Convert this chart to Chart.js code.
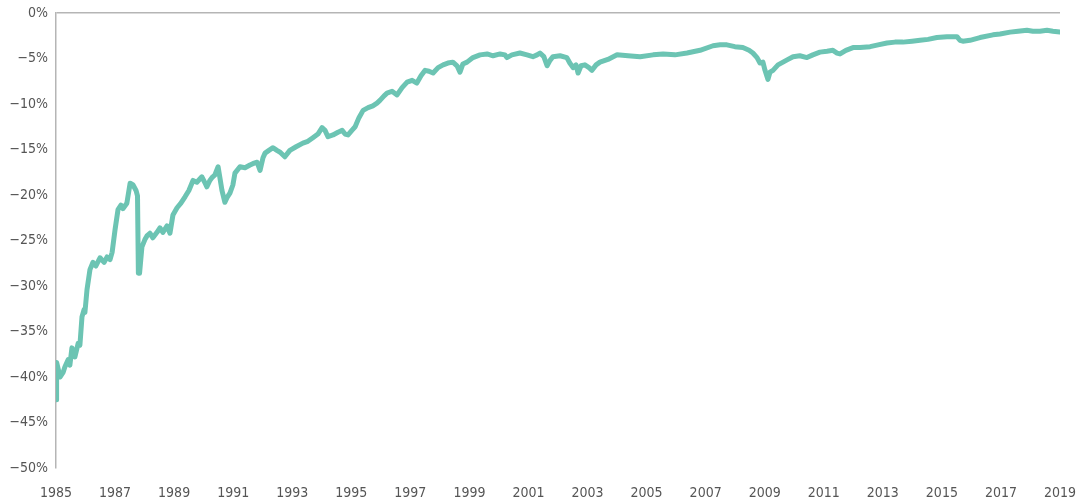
<!DOCTYPE html>
<html>
<head>
<meta charset="utf-8">
<script src="https://cdn.jsdelivr.net/npm/chart.js@4"></script>
<style>
  html, body { margin: 0; padding: 0; background: #fff; }
  #wrap { width: 1088px; height: 504px; }
</style>
</head>
<body>
<div id="wrap"><canvas id="drawdown" width="1088" height="504"></canvas></div>
<script>
// decimal years of the traced points
const years = [
  1985.00, 1985.02, 1985.14, 1985.24, 1985.30, 1985.41, 1985.47, 1985.54, 1985.64, 1985.75,
  1985.81, 1985.88, 1985.95, 1985.98, 1986.05, 1986.15, 1986.25, 1986.35, 1986.49, 1986.63,
  1986.73, 1986.83, 1986.90, 1987.00, 1987.10, 1987.20, 1987.27, 1987.40, 1987.51, 1987.61,
  1987.71, 1987.76, 1987.79, 1987.83, 1987.91, 1988.01, 1988.08, 1988.18, 1988.28, 1988.42,
  1988.52, 1988.62, 1988.76, 1988.86, 1988.96, 1989.10, 1989.23, 1989.37, 1989.50, 1989.64,
  1989.77, 1989.94, 1990.05, 1990.11, 1990.21, 1990.28, 1990.38, 1990.49, 1990.55, 1990.62,
  1990.72, 1990.79, 1990.89, 1990.99, 1991.06, 1991.23, 1991.40, 1991.57, 1991.71, 1991.81,
  1991.91, 1992.01, 1992.08, 1992.21, 1992.35, 1992.48, 1992.59, 1992.75, 1992.92, 1993.13,
  1993.36, 1993.53, 1993.70, 1993.87, 1994.01, 1994.11, 1994.21, 1994.38, 1994.55, 1994.69,
  1994.79, 1994.89, 1995.02, 1995.13, 1995.26, 1995.40, 1995.57, 1995.73, 1995.87, 1995.97,
  1996.11, 1996.21, 1996.38, 1996.55, 1996.72, 1996.89, 1997.06, 1997.22, 1997.36, 1997.50,
  1997.63, 1997.77, 1997.94, 1998.11, 1998.27, 1998.44, 1998.58, 1998.68, 1998.78, 1998.92,
  1999.12, 1999.36, 1999.60, 1999.80, 2000.04, 2000.20, 2000.27, 2000.44, 2000.71, 2000.95,
  2001.15, 2001.29, 2001.39, 2001.52, 2001.63, 2001.73, 2001.83, 2002.07, 2002.30, 2002.40,
  2002.51, 2002.61, 2002.68, 2002.78, 2002.91, 2003.05, 2003.15, 2003.29, 2003.42, 2003.69,
  2004.00, 2004.37, 2004.78, 2005.22, 2005.56, 2005.96, 2006.37, 2006.81, 2007.25, 2007.49,
  2007.72, 2007.99, 2008.26, 2008.47, 2008.60, 2008.74, 2008.84, 2008.94, 2009.01, 2009.11,
  2009.18, 2009.28, 2009.45, 2009.62, 2009.79, 2009.96, 2010.19, 2010.43, 2010.63, 2010.87,
  2011.11, 2011.31, 2011.45, 2011.55, 2011.75, 2011.99, 2012.23, 2012.57, 2012.84, 2013.14,
  2013.41, 2013.68, 2013.99, 2014.26, 2014.53, 2014.83, 2015.17, 2015.51, 2015.61, 2015.71,
  2015.95, 2016.29, 2016.73, 2016.97, 2017.31, 2017.58, 2017.88, 2018.08, 2018.32, 2018.56,
  2018.76, 2019.00
];

// drawdown in percent
const drawdown = [
  -42.5, -38.4, -40.0, -39.5, -38.9, -38.1, -38.7, -36.8, -37.8, -36.3,
  -36.5, -33.4, -32.6, -32.9, -30.4, -28.2, -27.4, -27.8, -26.9, -27.4,
  -26.8, -27.1, -26.3, -23.8, -21.6, -21.1, -21.5, -20.9, -18.7, -18.9,
  -19.5, -20.1, -28.6, -28.6, -25.7, -24.9, -24.5, -24.2, -24.7, -24.1,
  -23.6, -24.1, -23.4, -24.2, -22.2, -21.4, -20.9, -20.2, -19.5, -18.4,
  -18.6, -18.0, -18.7, -19.1, -18.4, -18.1, -17.8, -16.9, -18.1, -19.5,
  -20.8, -20.3, -19.8, -18.9, -17.6, -16.9, -17.0, -16.7, -16.5, -16.4,
  -17.3, -15.9, -15.4, -15.1, -14.8, -15.1, -15.3, -15.8, -15.1, -14.7,
  -14.3, -14.1, -13.7, -13.3, -12.6, -12.9, -13.6, -13.4, -13.1, -12.9,
  -13.3, -13.4, -12.9, -12.5, -11.5, -10.7, -10.4, -10.2, -9.9, -9.6,
  -9.1, -8.8, -8.6, -9.0, -8.2, -7.6, -7.4, -7.7, -6.9, -6.3,
  -6.4, -6.6, -6.0, -5.7, -5.5, -5.4, -5.8, -6.5, -5.6, -5.4,
  -4.9, -4.6, -4.5, -4.7, -4.5, -4.6, -4.9, -4.6, -4.4, -4.6,
  -4.8, -4.6, -4.4, -4.8, -5.8, -5.2, -4.8, -4.7, -4.9, -5.5,
  -6.0, -5.7, -6.6, -5.8, -5.7, -6.0, -6.3, -5.7, -5.4, -5.1,
  -4.6, -4.7, -4.8, -4.6, -4.5, -4.6, -4.4, -4.1, -3.6, -3.5,
  -3.5, -3.7, -3.8, -4.1, -4.4, -4.9, -5.5, -5.4, -6.3, -7.3,
  -6.5, -6.3, -5.7, -5.4, -5.1, -4.8, -4.7, -4.9, -4.6, -4.3,
  -4.2, -4.1, -4.4, -4.5, -4.1, -3.8, -3.8, -3.7, -3.5, -3.3,
  -3.2, -3.2, -3.1, -3.0, -2.9, -2.7, -2.6, -2.6, -3.0, -3.1,
  -3.0, -2.7, -2.4, -2.3, -2.1, -2.0, -1.9, -2.0, -2.0, -1.9,
  -2.0, -2.1
];

const yearTicks = [1985, 1987, 1989, 1991, 1993, 1995, 1997, 1999, 2001, 2003, 2005,
  2007, 2009, 2011, 2013, 2015, 2017, 2019];
const pctTicks = [0, -5, -10, -15, -20, -25, -30, -35, -40, -45, -50];

const points = years.map((yr, i) => ({ x: yr, y: drawdown[i] }));
const labelFont = { family: "'Liberation Sans Narrow', 'DejaVu Sans Condensed', sans-serif", size: 14 };

new Chart(document.getElementById('drawdown'), {
  type: 'line',
  data: {
    datasets: [{
      data: points,
      borderColor: '#6cc4b3',
      borderWidth: 5,
      pointRadius: 0,
      tension: 0,
      borderJoinStyle: 'round',
      borderCapStyle: 'round'
    }]
  },
  options: {
    responsive: false,
    animation: false,
    layout: { padding: { left: 0, right: 28, top: 13, bottom: 0 } },
    plugins: { legend: { display: false }, tooltip: { enabled: false } },
    scales: {
      x: {
        type: 'linear',
        min: 1985,
        max: 2019,
        afterBuildTicks: (scale) => { scale.ticks = yearTicks.map(v => ({ value: v })); },
        afterFit: (scale) => {
          // tick padding would otherwise widen the right margin
          scale.height = 36;
          scale.paddingLeft = 0;
          scale.paddingRight = 28;
        },
        ticks: {
          color: '#555',
          font: labelFont,
          padding: 17,
          maxRotation: 0,
          autoSkip: false,
          callback: (v) => String(v)
        },
        grid: { display: false, drawTicks: false },
        border: { display: false }
      },
      y: {
        min: -50,
        max: 0,
        afterBuildTicks: (scale) => { scale.ticks = pctTicks.map(v => ({ value: v })); },
        afterFit: (scale) => {
          scale.width = 56;
          scale.paddingTop = 0;
          scale.paddingBottom = 0;
        },
        ticks: {
          color: '#555',
          font: labelFont,
          padding: 8,
          callback: (v) => (v === 0 ? '0%' : '\u2212' + Math.abs(v) + '%')
        },
        grid: {
          drawTicks: false,
          color: (c) => (c.tick && c.tick.value === 0 ? '#b5b5b5' : 'rgba(0,0,0,0)'),
          lineWidth: 1.5
        },
        border: { display: true, color: '#b5b5b5', width: 1.5 }
      }
    }
  }
});
</script>
</body>
</html>
